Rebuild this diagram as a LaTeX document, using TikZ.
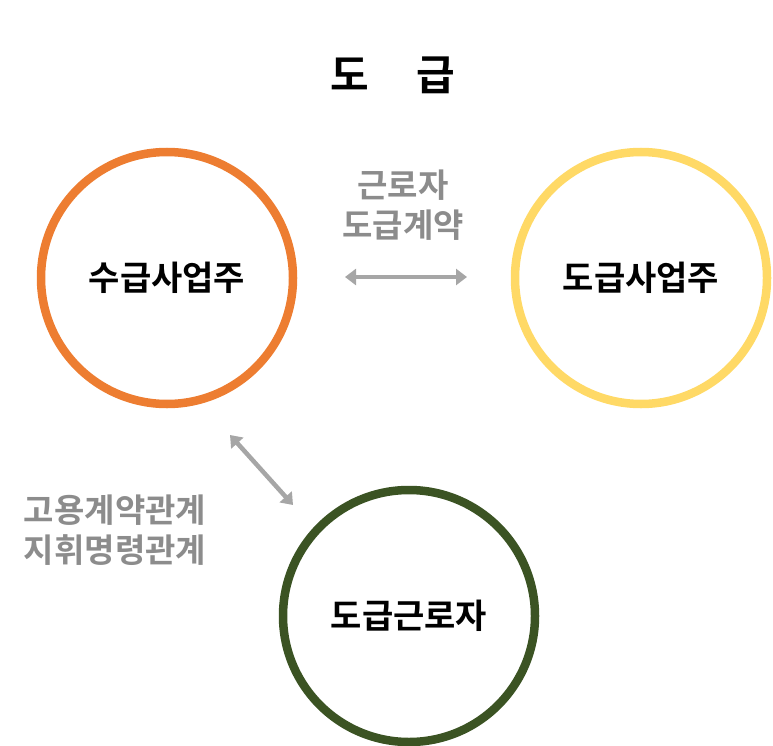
\documentclass[tikz,border=0pt]{standalone}
\usepackage{fontspec}
\setmainfont{Noto Sans CJK KR}[BoldFont={Noto Sans CJK KR Bold}]
\usetikzlibrary{arrows.meta}
\definecolor{corange}{HTML}{ED7D31}
\definecolor{cyellow}{HTML}{FFD966}
\definecolor{cgreen}{HTML}{3B5323}
\definecolor{cgray}{HTML}{A6A6A6}
\definecolor{ctext}{HTML}{8C8C8C}
\begin{document}
\begin{tikzpicture}[x=1pt,y=-1pt,
  party/.style={circle,line width=8.5pt,minimum size=252pt,inner sep=0pt,font=\fontsize{34}{40}\selectfont\bfseries},
  rel/.style={text=ctext,align=center,font=\fontsize{33}{40}\selectfont\bfseries},
  conn/.style={cgray,line width=4.5pt,{Triangle[length=11pt,width=16pt]}-{Triangle[length=11pt,width=16pt]}}]
\useasboundingbox (0,0) rectangle (773,746);
\node[font=\fontsize{42}{48}\selectfont\bfseries] (title) at (393,75) {도\hspace{48pt}급};
\node[party,draw=corange] (a) at (167,278) {수급사업주};
\node[party,draw=cyellow] (b) at (641,278) {도급사업주};
\node[party,draw=cgreen] (c) at (409,616) {도급근로자};
\coordinate (p1) at (345,277); \coordinate (p2) at (467,277);
\coordinate (q1) at (230,435); \coordinate (q2) at (293,505);
\draw[conn] (p1) -- (p2);
\draw[conn] (q1) -- (q2);
\node[rel] (l1) at (403,205) {근로자\\도급계약};
\node[rel] (l2) at (115,530) {고용계약관계\\지휘명령관계};
\end{tikzpicture}
\end{document}
